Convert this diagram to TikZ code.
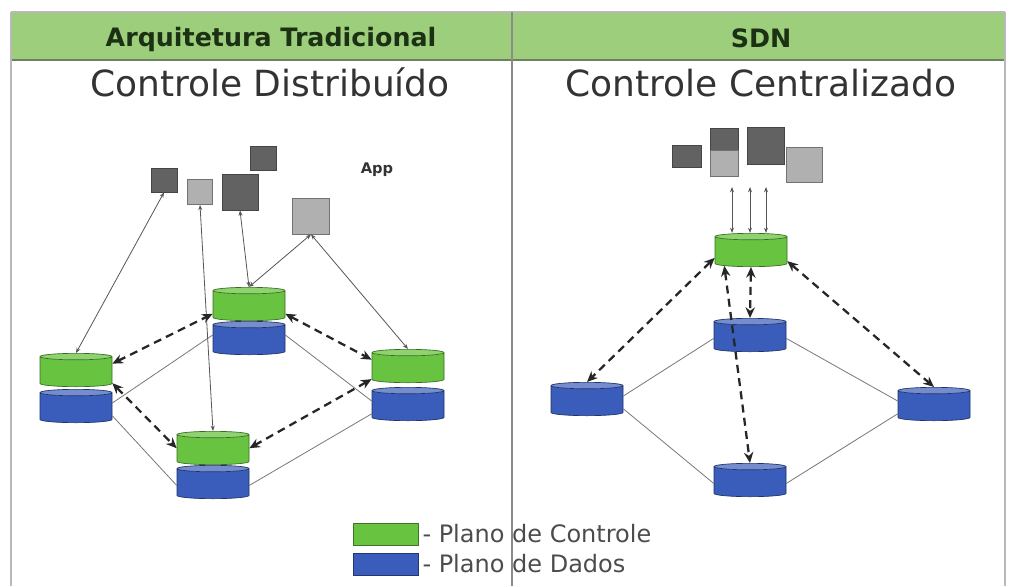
\documentclass[tikz,border=0pt]{standalone}
\usepackage{fontspec}
\setmainfont{DejaVu Sans}
\usetikzlibrary{shapes.geometric,arrows.meta}

\definecolor{hdrgreen}{RGB}{156,206,124}
\definecolor{hdrline}{RGB}{110,128,100}
\definecolor{hdrtext}{RGB}{28,48,20}
\definecolor{ctrlgreen}{RGB}{104,196,64}
\definecolor{datablue}{RGB}{58,92,186}
\definecolor{appdark}{RGB}{98,98,98}
\definecolor{applight}{RGB}{176,176,176}
\definecolor{linegray}{RGB}{85,85,85}
\definecolor{framegray}{RGB}{185,185,185}

\tikzset{every picture/.style={line width=0.75pt}}
\tikzset{
  ctrlplane/.style={cylinder, shape border rotate=90, aspect=0.09, anchor=shape center, inner xsep=27pt, inner ysep=0pt, minimum height=25pt, draw=ctrlgreen!55!black, line width=0.5pt, cylinder uses custom fill, cylinder body fill=ctrlgreen, cylinder end fill=ctrlgreen!75!white},
  dataplane/.style={ctrlplane, draw=datablue!55!black, cylinder body fill=datablue, cylinder end fill=datablue!70!white},
  appdk/.style={draw=appdark!70!black, fill=appdark, line width=0.6pt, inner sep=0pt},
  applt/.style={draw=applight!65!black, fill=applight, line width=0.6pt, inner sep=0pt},
  applink/.style={draw=linegray, line width=0.6pt, {Stealth[length=4pt,width=3pt]}-{Stealth[length=4pt,width=3pt]}},
  datalink/.style={draw=linegray!80, line width=0.6pt},
  ctrllink/.style={draw=black!85, line width=1.7pt, dash pattern=on 6pt off 4pt, {Stealth[length=8pt,width=7pt]}-{Stealth[length=8pt,width=7pt]}},
  keytext/.style={anchor=base west, inner sep=0pt, font=\fontsize{18}{21}\selectfont, text=black!70}
}

\begin{document}
\begin{tikzpicture}[x=0.75pt,y=0.75pt,yscale=-1,xscale=1]
\useasboundingbox (0,0) rectangle (1011,586);

% table frame
\fill[hdrgreen] (11,12) rectangle (1005,60);
\draw[framegray, line width=0.8pt] (11,12) -- (1005,12);
\draw[hdrline, line width=1.2pt] (11,60) -- (1005,60);
\draw[framegray, line width=1.5pt] (11,12) -- (11,586);
\draw[framegray!75!black, line width=1.2pt] (512,12) -- (512,586);
\draw[framegray, line width=1pt] (1005,12) -- (1005,586);

\node[anchor=base, font=\bfseries\fontsize{19}{22}\selectfont, text=hdrtext] (hdrL) at (271,46) {Arquitetura Tradicional};
\node[anchor=base, font=\bfseries\fontsize{19}{22}\selectfont, text=hdrtext] (hdrR) at (761,47) {SDN};
\node[anchor=base, font=\fontsize{27}{32}\selectfont, text=black!80] (ttlL) at (270,96) {Controle Distribuído};
\node[anchor=base, font=\fontsize{27}{32}\selectfont, text=black!80] (ttlR) at (761,96) {Controle Centralizado};

% distribuido: apps
\node[appdk, minimum width=19.5pt, minimum height=18pt] (a1) at (164,180) {};
\node[applt, minimum size=18.75pt] (a2) at (200,192) {};
\node[appdk, minimum size=27pt] (a3) at (240,192) {};
\node[appdk, minimum width=19.5pt, minimum height=18pt] (a4) at (263,158) {};
\node[applt, minimum width=27.75pt, minimum height=27pt] (a5) at (311,216) {};
\node[anchor=base, font=\bfseries\fontsize{11}{13}\selectfont, text=black!80] (applbl) at (377,173) {App};

% distribuido: switches
\node[ctrlplane] (Lc) at (76,370) {};
\node[dataplane] (Ld) at (76,406) {};
\node[ctrlplane] (Tc) at (249,304) {};
\node[dataplane] (Td) at (249,338) {};
\node[ctrlplane] (Rc) at (408,366) {};
\node[dataplane] (Rd) at (408,404) {};
\node[ctrlplane] (Bc) at (213,448) {};
\node[dataplane] (Bd) at (213,482) {};

\draw[datalink] (Td.170) -- (Ld.10);
\draw[datalink] (Td.10) -- (Rd.170);
\draw[datalink] (Ld.-10) -- (Bd.west);
\draw[datalink] (Rd.190) -- (Bd.east);

\draw[applink] (Lc.north) -- (a1.south);
\draw[applink] (Bc.north) -- (a2.south);
\draw[applink] (Tc.north) -- (a3.south);
\draw[applink] (a5.south) -- (Tc.north);
\draw[applink] (a5.south) -- (Rc.north);

\draw[ctrllink] (Lc.15) -- (Tc.190);
\draw[ctrllink] (Tc.-10) -- (Rc.165);
\draw[ctrllink] (Lc.-15) -- (Bc.175);
\draw[ctrllink] (Rc.195) -- (Bc.5);

% centralizado: apps
\node[appdk, minimum width=21.75pt, minimum height=16.5pt] (r1) at (687,156) {};
\node[appdk, minimum width=21pt, minimum height=16.5pt] (r2a) at (724,139) {};
\node[applt, minimum width=21pt, minimum height=19.5pt] (r2b) at (724,163) {};
\node[appdk, minimum size=27.75pt] (r3) at (766,146) {};
\node[applt, minimum width=27pt, minimum height=26.25pt] (r4) at (804,165) {};

% centralizado: controller and switches
\node[ctrlplane] (ctl) at (751,250) {};
\node[dataplane] (sm) at (750,335) {};
\node[dataplane] (sl) at (587,399) {};
\node[dataplane] (sr) at (934,404) {};
\node[dataplane] (sb) at (750,480) {};

\coordinate (up1) at (732,187);
\coordinate (up2) at (750,187);
\coordinate (up3) at (766,187);
\draw[applink] (up1 |- ctl.north) -- (up1);
\draw[applink] (up2 |- ctl.north) -- (up2);
\draw[applink] (up3 |- ctl.north) -- (up3);

\draw[datalink] (sm.west) -- (sl.10);
\draw[datalink] (sm.east) -- (sr.170);
\draw[datalink] (sl.-10) -- (sb.west);
\draw[datalink] (sr.190) -- (sb.east);

\draw[ctrllink] (ctl.187) -- (sl.north);
\draw[ctrllink] (ctl.-12) -- (sr.north);
\draw[ctrllink] (ctl.south) -- (sm.north);
\draw[ctrllink] (ctl.205) -- (sb.north);

% legenda
\node[draw=ctrlgreen!60!black, fill=ctrlgreen, minimum width=48.75pt, minimum height=16.5pt, inner sep=0pt] (keyc) at (385.5,534) {};
\node[draw=datablue!60!black, fill=datablue, minimum width=48.75pt, minimum height=16.5pt, inner sep=0pt] (keyd) at (385.5,564) {};
\node[keytext] (keyct) at (422,542) {- Plano de Controle};
\node[keytext] (keydt) at (422,572) {- Plano de Dados};

\end{tikzpicture}
\end{document}
